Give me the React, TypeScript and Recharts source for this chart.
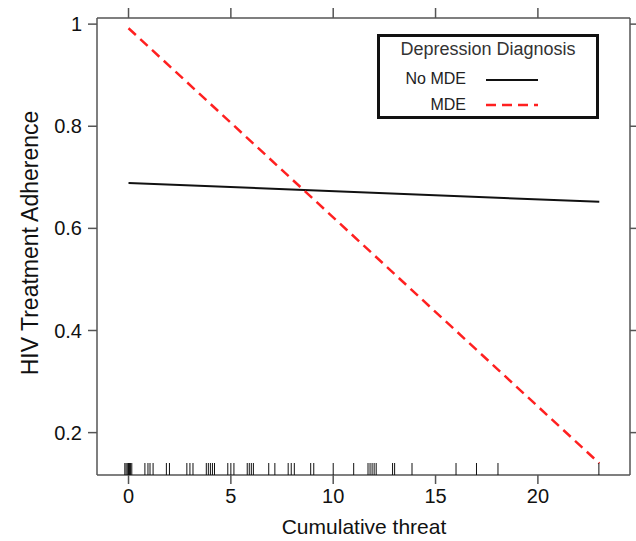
import { ComposedChart, Line, Scatter, XAxis, YAxis, Legend } from 'recharts'

// fitted adherence at the ends of the threat range
const threat = [0, 23]
const noMde = [0.689, 0.652]
const mde = [0.992, 0.14]

// observed cumulative threat scores (rug, jittered)
const rug = [
    -0.18, -0.12, -0.06, 0, 0.05, 0.1, 0.16,
    0.8, 0.95, 1.05, 1.2,
    1.85, 2.0,
    2.85, 3.0, 3.15,
    3.8, 3.9, 4.0, 4.1, 4.2,
    4.85, 5.0, 5.15,
    5.8, 5.9, 6.0, 6.1,
    6.85, 7.15,
    7.8, 7.95, 8.1,
    8.9, 9.05,
    10.0,
    11.0,
    11.7, 11.8, 11.9, 12.0, 12.1,
    12.9, 13.0,
    13.85,
    16.0,
    17.0,
    18.05,
    22.98,
]

const xTicks = [0, 5, 10, 15, 20]
const yTicks = [0.2, 0.4, 0.6, 0.8, 1]
const seriesNames = ['No MDE', 'MDE']
const legendTitle = 'Depression Diagnosis'

const X_DOMAIN: [number, number] = [-1.54, 24.5]
const Y_DOMAIN: [number, number] = [0.117, 1.012]

const AXIS = '#555'
const FONT = '"Liberation Sans", Arial, sans-serif'

const noMdeData = threat.map((x, i) => ({ x, y: noMde[i] }))
const mdeData = threat.map((x, i) => ({ x, y: mde[i] }))
const rugData = rug.map((x) => ({ x, y: Y_DOMAIN[0] }))

const RugTick = (props: any) => {
    const { cx, cy } = props
    return <line x1={cx} x2={cx} y1={cy} y2={cy - 12} stroke="#111" strokeWidth={1} />
}

const NoLabel = () => <g />

const LegendBox = () => (
    <div
        style={{
            boxSizing: 'border-box',
            width: 222,
            height: 85,
            border: '3px solid #111',
            background: '#fff',
            fontFamily: FONT,
            color: '#333',
            position: 'relative',
        }}
    >
        <div style={{ position: 'absolute', top: 2, left: 0, right: 0, textAlign: 'center', fontSize: 18 }}>
            {legendTitle}
        </div>
        <div style={{ position: 'absolute', top: 33, right: 130, fontSize: 16, color: '#222' }}>{seriesNames[0]}</div>
        <svg style={{ position: 'absolute', left: 103, top: 40 }} width={56} height={6}>
            <line x1={3} x2={55} y1={3} y2={3} stroke="#111" strokeWidth={2} />
        </svg>
        <div style={{ position: 'absolute', top: 59, right: 130, fontSize: 16, color: '#222' }}>{seriesNames[1]}</div>
        <svg style={{ position: 'absolute', left: 103, top: 65 }} width={56} height={6}>
            <line x1={3} x2={55} y1={3} y2={3} stroke="#ff2020" strokeWidth={2.5} strokeDasharray="10 6" />
        </svg>
    </div>
)

export default function App() {
    return (
        <div style={{ position: 'absolute', left: 0, top: 0, width: 636, height: 541, background: '#fff' }}>
            <ComposedChart width={636} height={541} margin={{ top: 8, right: 0, left: 0, bottom: 0 }}>
                <XAxis
                    xAxisId="bottom"
                    dataKey="x"
                    type="number"
                    domain={X_DOMAIN}
                    ticks={xTicks}
                    allowDataOverflow
                    height={66}
                    stroke={AXIS}
                    strokeWidth={1.5}
                    tickSize={9}
                    tickMargin={5}
                    tick={{ fill: '#111', fontSize: 20, fontFamily: FONT }}
                    label={{
                        content: () => (
                            <text x={364} y={534} textAnchor="middle" fontSize={21} fontFamily={FONT} fill="#111">
                                Cumulative threat
                            </text>
                        ),
                    }}
                />
                <XAxis
                    xAxisId="top"
                    orientation="top"
                    dataKey="x"
                    type="number"
                    domain={X_DOMAIN}
                    ticks={xTicks}
                    allowDataOverflow
                    height={10}
                    stroke={AXIS}
                    strokeWidth={1.5}
                    tickSize={10}
                    tick={NoLabel}
                />
                <YAxis
                    yAxisId="left"
                    type="number"
                    domain={Y_DOMAIN}
                    ticks={yTicks}
                    allowDataOverflow
                    width={97}
                    stroke={AXIS}
                    strokeWidth={1.5}
                    tickSize={9}
                    tickMargin={6}
                    tick={{ fill: '#111', fontSize: 20, fontFamily: FONT }}
                    label={{
                        content: () => (
                            <text
                                x={38}
                                y={243}
                                transform="rotate(-90 38 243)"
                                textAnchor="middle"
                                fontSize={23}
                                fontFamily={FONT}
                                fill="#111"
                            >
                                HIV Treatment Adherence
                            </text>
                        ),
                    }}
                />
                <YAxis
                    yAxisId="right"
                    orientation="right"
                    type="number"
                    domain={Y_DOMAIN}
                    ticks={yTicks}
                    allowDataOverflow
                    width={6}
                    stroke={AXIS}
                    strokeWidth={1.5}
                    tickSize={10}
                    tick={NoLabel}
                />
                {/* invisible carrier so the top and right frame axes get drawn */}
                <Line
                    xAxisId="top"
                    yAxisId="right"
                    data={noMdeData}
                    dataKey="y"
                    stroke="none"
                    dot={false}
                    legendType="none"
                    isAnimationActive={false}
                />
                <Scatter
                    xAxisId="bottom"
                    yAxisId="left"
                    data={rugData}
                    dataKey="y"
                    shape={RugTick}
                    isAnimationActive={false}
                    legendType="none"
                />
                <Line
                    xAxisId="bottom"
                    yAxisId="left"
                    data={noMdeData}
                    dataKey="y"
                    name={seriesNames[0]}
                    stroke="#111"
                    strokeWidth={2}
                    dot={false}
                    isAnimationActive={false}
                />
                <Line
                    xAxisId="bottom"
                    yAxisId="left"
                    data={mdeData}
                    dataKey="y"
                    name={seriesNames[1]}
                    stroke="#ff2020"
                    strokeWidth={2.5}
                    strokeDasharray="10 6"
                    dot={false}
                    isAnimationActive={false}
                />
                <Legend
                    layout="horizontal"
                    verticalAlign="middle"
                    content={() => <LegendBox />}
                    wrapperStyle={{ position: 'absolute', left: 377, top: 34, width: 222, height: 85 }}
                />
            </ComposedChart>
        </div>
    )
}
